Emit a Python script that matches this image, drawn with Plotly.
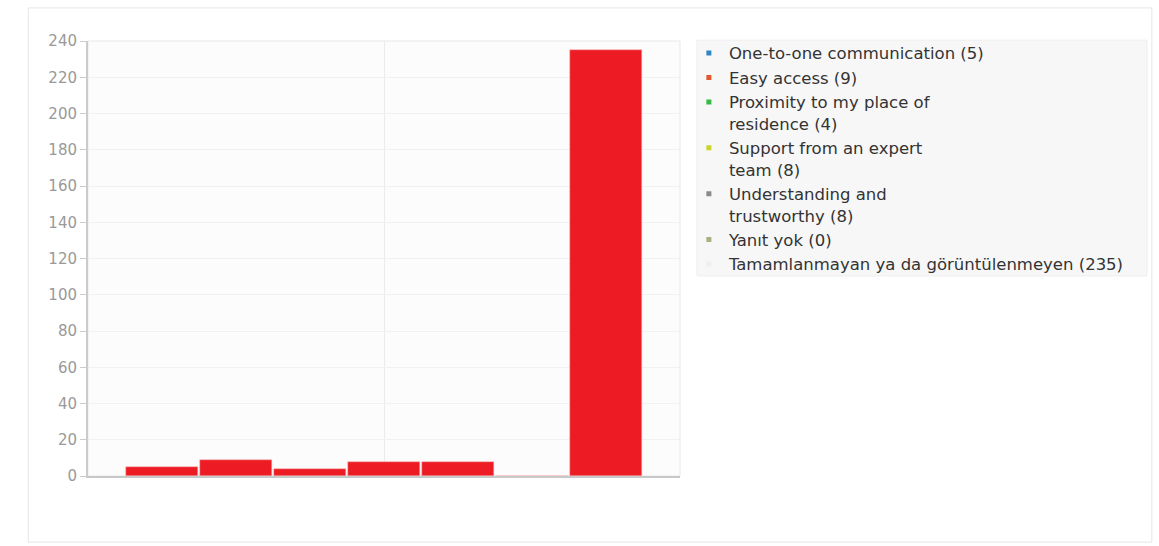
import plotly.graph_objects as go

# Survey responses per option
labels = [
    "One-to-one communication (5)",
    "Easy access (9)",
    "Proximity to my place of<br>residence (4)",
    "Support from an expert<br>team (8)",
    "Understanding and<br>trustworthy (8)",
    "Yanıt yok (0)",
    "Tamamlanmayan ya da görüntülenmeyen (235)",
]
counts = [5, 9, 4, 8, 8, 0, 235]
legend_colors = ["#2f86c4", "#e0582c", "#33bb44", "#c8d62a", "#8a8a8a", "#a8b080", "#eeeeee"]
bar_color = "#ed1c24"
y_ticks = list(range(0, 241, 20))

fig = go.Figure()

positions = list(range(len(counts)))
fig.add_trace(go.Bar(
    x=positions, y=counts, width=0.97,
    marker=dict(color=bar_color, line=dict(color="#f4b0b0", width=0.5)),
    showlegend=False, hoverinfo="y",
))

# Legend entries with small square swatches
for name, col in zip(labels, legend_colors):
    fig.add_trace(go.Scatter(
        x=[None], y=[None], mode="markers", name=name,
        marker=dict(symbol="square", size=5, color=col),
    ))

shapes = [
    # outer panel frame
    dict(type="rect", xref="paper", yref="paper", x0=-0.101, x1=1.797, y0=-0.152, y1=1.076,
         line=dict(color="#e6e6e6", width=1), fillcolor="rgba(0,0,0,0)", layer="below"),
    # legend box
    dict(type="rect", xref="paper", yref="paper", x0=1.0287, x1=1.789, y0=0.46, y1=1.002,
         line=dict(color="#eeeeee", width=1), fillcolor="#f7f7f7", layer="below"),
    # plot area border
    dict(type="rect", xref="paper", yref="paper", x0=0, x1=1, y0=0, y1=1,
         line=dict(color="#e8e8e8", width=1), fillcolor="rgba(0,0,0,0)", layer="below"),
]

fig.update_layout(
    width=1159, height=546,
    margin=dict(l=88, r=479, t=41, b=70),
    paper_bgcolor="white", plot_bgcolor="#fcfcfd",
    font=dict(family="DejaVu Sans", size=13, color="#333333"),
    bargap=0,
    shapes=shapes,
    showlegend=True,
    legend=dict(
        x=1.015, y=1.012, xanchor="left", yanchor="top",
        bgcolor="rgba(0,0,0,0)", borderwidth=0,
        font=dict(family="DejaVu Sans", size=16.5, color="#333333"),
        valign="top", itemwidth=30,
    ),
    xaxis=dict(
        range=[-1, 7], tickvals=[-1, 3, 7], showticklabels=False,
        showgrid=True, gridcolor="#ebebeb", zeroline=False,
        showline=True, linecolor="#c8c8c8", linewidth=2, ticks="",
        fixedrange=True,
    ),
    yaxis=dict(
        range=[0, 240], tickvals=y_ticks, showgrid=True, gridcolor="#f1f1f1",
        zeroline=False, showline=True, linecolor="#cccccc", linewidth=2,
        ticks="outside", ticklen=6, tickcolor="#cccccc",
        tickfont=dict(family="DejaVu Sans", size=15, color="#999999"),
        fixedrange=True,
    ),
)

fig.write_html("out.html")
